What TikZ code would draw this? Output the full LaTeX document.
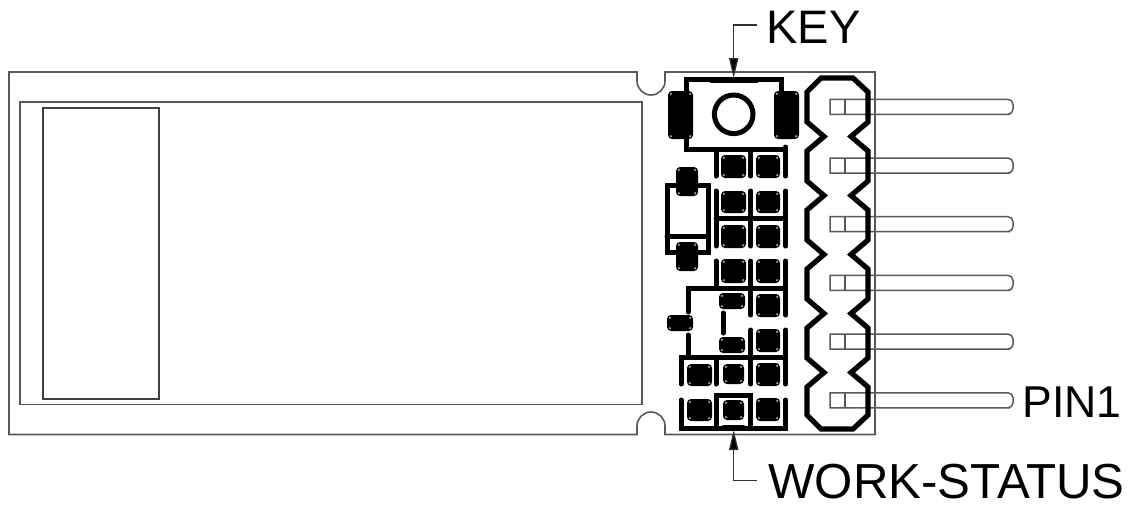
\documentclass[tikz,border=0pt]{standalone}
\usepackage{fontspec}
\setmainfont{Liberation Sans}
\usetikzlibrary{arrows.meta}
\definecolor{outl}{gray}{0.35}
\tikzset{
  px/.style={x=0.5pt,y=-0.5pt},
  outline/.style={draw=outl,line width=0.8pt,line join=miter},
  winline/.style={draw=black!75,line width=0.9pt},
  pinline/.style={draw=outl,line width=0.75pt},
  track/.style={draw=black,line width=2.5pt,line cap=round,line join=miter},
  headerline/.style={draw=black,line width=2.6pt,line join=miter},
  lead/.style={draw=black!80,line width=0.6pt,-{Triangle[length=10pt,width=4.6pt,fill=black]}},
  lab/.style={inner sep=0pt,anchor=base west,text=black},
  padbox/.style={fill=black,rounded corners=2pt},
  via/.style={draw=black!45,line width=0.25pt,fill=black!15},
}
\newcommand{\pcbpad}[4]{%
  \path[padbox] (#1-1,#2-1) rectangle (#3+1,#4+1);
  \foreach \cx/\cy in {#1+1.8/#2+1.8,#3-1.8/#2+1.8,#1+1.8/#4-1.8,#3-1.8/#4-1.8}
    \path[via] ({\cx},{\cy}) circle (0.45pt);
}
\newcommand{\pcbpin}[1]{%
  \draw[pinline] (830,#1-7.5) -- (1005,#1-7.5) [rounded corners=2.5pt] -- (1013,#1-7.5) -- (1013,#1+7.5) -- (1005,#1+7.5) [sharp corners] -- (830,#1+7.5) -- cycle;
  \draw[pinline] (845,#1-7.5) -- (845,#1+7.5);
}
\begin{document}
\begin{tikzpicture}[px]
\useasboundingbox (0,0) rectangle (1131,505);
% board
\draw[outline] (637,72) -- (9,72) -- (9,434.5) -- (637,434.5) -- (637,426) arc[start angle=180,end angle=360,radius=14] -- (665,434.5) -- (875,434.5) -- (875,72) -- (665,72) -- (665,81) arc[start angle=0,end angle=180,radius=14] -- cycle;
\draw[outline] (20,102) rectangle (642,404.5);
\draw[winline] (43,108) rectangle (159,399);
% pins
\foreach \py in {106.8,165.6,224.2,282.9,341.6,400.3} {\pcbpin{\py}}
% header outline
\draw[headerline] (821,78) -- (853,78) -- (868,92) -- (868,122) -- (851,136.5)
  -- (868,151) -- (868,181) -- (851,195.5)
  -- (868,210) -- (868,240) -- (851,254.5)
  -- (868,269) -- (868,299) -- (851,313.5)
  -- (868,328) -- (868,358) -- (851,372.5)
  -- (868,387) -- (868,415) -- (853,429) -- (821,429) -- (807,415)
  -- (807,387) -- (824,372.5) -- (807,358) -- (807,328) -- (824,313.5)
  -- (807,299) -- (807,269) -- (824,254.5) -- (807,240) -- (807,210)
  -- (824,195.5) -- (807,181) -- (807,151) -- (824,136.5) -- (807,122)
  -- (807,92) -- cycle;
% switch
\draw[track] (686,91) -- (686,79.5) -- (781,79.5) -- (781,91);
\draw[track] (686,137) -- (686,149) -- (785.7,149);
\draw[track,line width=3pt] (711,79.5) -- (757,79.5);
\draw[track] (733.7,114.3) circle (19.3);
\pcbpad{669}{92}{692}{138}
\pcbpad{775}{92}{798}{138}
% capacitor group
\draw[track] (683,185) -- (667,185) -- (667,252) -- (683,252);
\draw[track] (693,185) -- (708,185) -- (708,252) -- (693,252);
\draw[track] (667,236) -- (708,236);
\pcbpad{677}{168}{697}{195}
\pcbpad{677}{243}{697}{270}
% upper tracks
\draw[track] (716,150) -- (716,176);
\draw[track] (750.7,150) -- (750.7,176);
\draw[track] (785.7,147) -- (785.7,176);
\draw[track] (716,191) -- (716,246);
\draw[track] (750.7,191) -- (750.7,246);
\draw[track] (785.7,191) -- (785.7,246);
\draw[track] (716,218) -- (785.7,218);
\draw[track] (716,261) -- (716,288);
\draw[track] (750.7,261) -- (750.7,315);
\draw[track] (785.7,261) -- (785.7,315);
\draw[track] (688,312) -- (688,288) -- (785.7,288);
\draw[track] (723,313) -- (723,333);
\draw[track] (688,335) -- (688,357.3);
\draw[track] (750.7,330) -- (750.7,357.3);
\draw[track] (785.7,330) -- (785.7,384);
\draw[track] (681,384) -- (681,357.3) -- (785.7,357.3);
\draw[track] (716,357.3) -- (716,384);
\draw[track] (750.7,357.3) -- (750.7,384);
\draw[track] (681,400) -- (681,428) -- (785.7,428) -- (785.7,400);
\draw[track] (716,428) -- (716,395.7) -- (750.7,395.7) -- (750.7,428);
\draw[track,line width=3.2pt] (724,428) -- (743,428);
% pads
\foreach \ya/\yb in {156/177,192/212,226/247,260/282} {
  \pcbpad{722}{\ya}{745}{\yb}
  \pcbpad{757}{\ya}{779}{\yb}
}
\pcbpad{720}{294}{744}{308}
\pcbpad{757}{295}{779}{316}
\pcbpad{668}{316}{692}{330}
\pcbpad{720}{338}{744}{352}
\pcbpad{757}{330}{779}{351}
\pcbpad{688}{365}{711}{385}
\pcbpad{724}{365}{743}{383}
\pcbpad{757}{364}{779}{385}
\pcbpad{688}{400}{711}{420}
\pcbpad{724}{401}{743}{419}
\pcbpad{757}{399}{779}{420}
% labels
\node[lab,font=\fontsize{23.5}{28}\selectfont] (keylabel) at (766,43) {KEY};
\node[lab,font=\fontsize{22.3}{28}\selectfont] (pinlabel) at (1022,417) {PIN1};
\node[lab,font=\fontsize{24.6}{28}\selectfont] (statuslabel) at (768,498) {WORK-STATUS};
% leaders
\coordinate (keyfrom) at (757,25);
\coordinate (keytip) at (733.7,78);
\coordinate (statusfrom) at (757,480.7);
\coordinate (statustip) at (733.7,430);
\draw[lead] (keyfrom) -| (keytip);
\draw[lead] (statusfrom) -| (statustip);
\end{tikzpicture}
\end{document}
